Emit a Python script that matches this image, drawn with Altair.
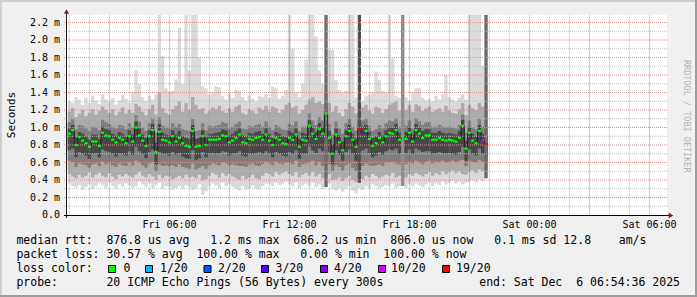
import altair as alt
import pandas as pd

MONO = "DejaVu Sans Mono"

# ---------------- time axis: hours since Fri 00:00 ----------------
START_H = 0.91          # Fri Dec 5 00:54:36
END_H = 30.91           # Sat Dec 6 06:54:36
STEP_H = 1.0 / 6.0      # one column = 10 minutes
Y_TOP = 200.0 / 87.5    # top of canvas in ms

# ---------------- values (hundredths of a millisecond) ----------------
med = [93, 97, 80, 89, 85, 82, 78, 84, 84, 79,
       94, 91, 90, 86, 83, 88, 86, 82, 90, 84,
       100, 91, 85, 79, 90, 97, 72, 95, 86, 85,
       83, 90, 84, 88, 82, 79, 78, 96, 78, 79,
       90, 80, 86, 86, 86, 87, 91, 90, 83, 85,
       88, 92, 83, 82, 87, 86, 88, 89, 86, 92,
       85, 80, 88, 86, 82, 81, 88, 86, 92, 78,
       86, 85, 102, 93, 87, 98, 93, 116, 88, 70,
       92, 83, 74, 90, 96, 86, 78, 98, 94, 96,
       87, 79, 82, 88, 83, 90, 94, 93, 97, 86,
       90, 87, 94, 84, 97, 93, 88, 91, 91, 86,
       86, 88, 86, 85, 86, 85, 84, 88, 102, 76,
       94, 85, 82, 96, 85, 81]

hi1 = [130, 128, 135, 132, 126, 134, 128, 136, 131, 127,
       138, 132, 129, 134, 126, 131, 137, 133, 128, 140,
       166, 150, 135, 130, 136, 132, 138, 230, 182, 145,
       140, 142, 155, 214, 150, 230, 165, 230, 230, 180,
       147, 145, 138, 140, 147, 146, 136, 132, 139, 134,
       143, 142, 135, 131, 137, 133, 130, 136, 135, 138,
       134, 147, 145, 133, 136, 143, 230, 190, 140, 135,
       150, 178, 230, 230, 204, 165, 150, 140, 189, 189,
       154, 143, 140, 142, 230, 230, 135, 132, 130, 136,
       138, 140, 164, 155, 142, 140, 230, 179, 136, 134,
       138, 135, 130, 140, 145, 145, 134, 131, 133, 130,
       136, 132, 138, 160, 135, 132, 130, 134, 138, 132,
       230, 230, 230, 230, 170, 150]

lo1 = [36, 33, 31, 34, 29, 32, 35, 30, 33, 36,
       34, 31, 37, 33, 30, 35, 32, 36, 34, 31,
       33, 38, 35, 32, 36, 31, 34, 37, 30, 33,
       32, 29, 31, 33, 30, 34, 32, 29, 31, 35,
       23, 27, 33, 36, 34, 31, 37, 33, 35, 32,
       30, 28, 33, 29, 31, 34, 30, 29, 33, 36,
       35, 33, 37, 34, 36, 38, 35, 33, 37, 31,
       34, 36, 33, 37, 32, 35, 30, 32, 36, 30,
       28, 31, 27, 30, 33, 28, 25, 31, 29, 33,
       31, 35, 33, 30, 32, 34, 33, 36, 31, 33,
       34, 31, 35, 33, 36, 34, 32, 35, 37, 33,
       36, 34, 38, 35, 37, 39, 36, 38, 35, 37,
       38, 40, 37, 41, 39, 42]

hi2 = [118, 122, 112, 116, 120, 113, 117, 121, 115, 119,
       124, 120, 117, 121, 114, 118, 123, 116, 120, 117,
       127, 124, 118, 114, 121, 126, 115, 140, 122, 117,
       115, 121, 125, 130, 118, 128, 120, 135, 126, 121,
       122, 116, 119, 123, 121, 125, 119, 117, 122, 118,
       124, 126, 117, 115, 121, 119, 116, 123, 120, 125,
       118, 124, 122, 117, 120, 126, 128, 123, 125, 116,
       120, 126, 132, 135, 128, 130, 127, 140, 128, 118,
       125, 117, 113, 121, 128, 124, 116, 125, 123, 126,
       119, 116, 124, 122, 117, 121, 126, 128, 130, 119,
       122, 120, 126, 118, 127, 125, 119, 122, 124, 118,
       120, 122, 118, 125, 119, 117, 116, 121, 128, 114,
       126, 122, 120, 128, 124, 119]

lo2 = [47, 44, 42, 46, 43, 45, 49, 43, 46, 48,
       45, 43, 48, 44, 41, 46, 44, 47, 45, 43,
       46, 49, 45, 43, 47, 44, 40, 46, 42, 45,
       44, 41, 43, 45, 42, 46, 43, 44, 42, 46,
       40, 41, 45, 48, 46, 43, 48, 45, 47, 44,
       42, 40, 45, 41, 43, 46, 42, 41, 45, 48,
       47, 44, 49, 46, 48, 50, 47, 45, 49, 43,
       46, 48, 45, 49, 44, 47, 42, 44, 47, 40,
       41, 43, 39, 42, 45, 40, 38, 43, 41, 45,
       43, 47, 45, 42, 44, 46, 45, 48, 43, 45,
       46, 43, 47, 45, 48, 46, 44, 47, 49, 45,
       48, 46, 50, 47, 49, 51, 48, 50, 47, 46,
       49, 51, 48, 52, 50, 52]

hi3 = [106, 110, 98, 103, 102, 99, 96, 101, 100, 97,
       109, 106, 104, 101, 99, 103, 102, 98, 105, 100,
       114, 107, 100, 96, 105, 111, 94, 112, 102, 100,
       99, 105, 101, 104, 98, 97, 96, 110, 96, 97,
       105, 97, 102, 101, 102, 103, 106, 105, 99, 101,
       104, 107, 99, 98, 102, 101, 103, 104, 101, 107,
       101, 97, 103, 101, 98, 97, 104, 102, 107, 96,
       101, 101, 116, 108, 103, 112, 108, 128, 104, 92,
       107, 99, 93, 105, 110, 101, 96, 112, 108, 110,
       102, 96, 98, 103, 99, 105, 108, 107, 111, 101,
       105, 102, 108, 99, 111, 107, 103, 106, 106, 101,
       101, 103, 101, 100, 101, 100, 99, 103, 115, 94,
       108, 100, 98, 110, 101, 98]

lo3 = [62, 60, 55, 59, 58, 57, 54, 58, 59, 56,
       61, 58, 60, 57, 55, 59, 57, 56, 60, 57,
       62, 60, 57, 54, 59, 60, 50, 58, 56, 57,
       56, 57, 55, 58, 55, 54, 53, 59, 52, 54,
       56, 53, 57, 59, 58, 57, 60, 59, 57, 58,
       57, 56, 56, 55, 58, 59, 57, 56, 58, 61,
       59, 57, 61, 59, 58, 60, 60, 58, 62, 55,
       58, 59, 60, 62, 57, 61, 56, 60, 58, 50,
       57, 55, 51, 57, 59, 54, 50, 58, 56, 59,
       57, 56, 57, 58, 56, 60, 60, 61, 59, 58,
       60, 58, 61, 59, 62, 60, 58, 61, 62, 59,
       61, 60, 62, 60, 61, 62, 60, 62, 63, 56,
       62, 61, 60, 63, 61, 62]

hi4 = [99, 103, 89, 95, 93, 90, 86, 92, 92, 87,
       101, 98, 97, 93, 91, 95, 93, 90, 97, 92,
       107, 99, 92, 88, 97, 104, 83, 104, 94, 92,
       91, 97, 92, 96, 90, 88, 87, 103, 87, 88,
       97, 89, 93, 93, 94, 95, 98, 97, 91, 93,
       96, 99, 91, 90, 94, 93, 95, 96, 93, 99,
       93, 88, 95, 93, 90, 89, 96, 94, 99, 87,
       94, 93, 109, 100, 95, 105, 100, 122, 96, 81,
       99, 91, 84, 97, 103, 93, 87, 105, 101, 103,
       95, 88, 90, 95, 91, 97, 101, 100, 104, 94,
       97, 95, 101, 92, 104, 100, 96, 98, 98, 94,
       94, 96, 94, 93, 94, 93, 92, 96, 109, 85,
       101, 93, 90, 103, 93, 90]

lo4 = [74, 76, 66, 72, 70, 68, 64, 70, 71, 66,
       75, 73, 72, 70, 67, 71, 70, 68, 73, 69,
       78, 73, 70, 65, 72, 75, 58, 72, 70, 70,
       68, 72, 69, 71, 67, 65, 64, 74, 63, 65,
       72, 66, 70, 71, 70, 71, 73, 72, 68, 70,
       71, 73, 68, 67, 70, 70, 71, 72, 70, 73,
       70, 66, 72, 70, 68, 67, 72, 70, 74, 64,
       70, 70, 78, 74, 71, 76, 73, 80, 72, 58,
       74, 69, 62, 72, 75, 70, 62, 76, 74, 76,
       71, 66, 68, 72, 69, 73, 75, 74, 76, 70,
       73, 71, 75, 70, 76, 74, 72, 73, 73, 70,
       71, 72, 71, 70, 71, 70, 69, 72, 78, 62,
       75, 70, 68, 76, 70, 68]

# columns whose median carries packet loss
loss_cols = [87, 88, 124, 125]
loss_vals = ["19/20", "3/20", "10/20", "19/20"]

# full-height loss bars
bar_cols = [77, 87, 100, 125]
bar_lo = [32, 37, 33, 42]
bar_hi = [230, 230, 230, 230]
bar_shade = ["#6b6b6b", "#4f4f4f", "#8c8c8c", "#696969"]

legend_loss = ["0", "1/20", "2/20", "3/20", "4/20", "10/20", "19/20"]
legend_colors = ["#00ff00", "#00b8ff", "#0059ff", "#5e00ff", "#7e00ff", "#dd00ff", "#ff0000"]

smoke_colors = ["#dadada", "#ababab", "#7e7e7e", "#484848"]

x_tick_hours = [6, 12, 18, 24, 30]
x_tick_labels = ["Fri 06:00", "Fri 12:00", "Fri 18:00", "Sat 00:00", "Sat 06:00"]
y_tick_values = [0.0, 0.2, 0.4, 0.6, 0.8, 1.0, 1.2, 1.4, 1.6, 1.8, 2.0, 2.2]
y_tick_labels = ["0.0  ", "0.2 m", "0.4 m", "0.6 m", "0.8 m", "1.0 m",
                 "1.2 m", "1.4 m", "1.6 m", "1.8 m", "2.0 m", "2.2 m"]
y_title = "Seconds"

rtt_line = "median rtt:  876.8 us avg   1.2 ms max  686.2 us min  806.0 us now   0.1 ms sd 12.8    am/s"
loss_line = "packet loss: 30.57 % avg  100.00 % max   0.00 % min  100.00 % now"
probe_line = "probe:       20 ICMP Echo Pings (56 Bytes) every 300s"
end_text = "end: Sat Dec  6 06:54:36 2025"
watermark = "RRDTOOL / TOBI OETIKER"

arrays = [med, hi1, lo1, hi2, lo2, hi3, lo3, hi4, lo4]
n = len(med)
assert all(len(a) == n for a in arrays), [len(a) for a in arrays]

NB = "\u00a0"


def nbsp(s):
    return s.replace(" ", NB)


# ---------------- tables ----------------
loss_map = dict(zip(legend_loss, legend_colors))
loss_label = ["0"] * n
for c, v in zip(loss_cols, loss_vals):
    loss_label[c] = v

cols = pd.DataFrame({
    "t0": [START_H + i * STEP_H for i in range(n)],
    "t1": [START_H + (i + 1) * STEP_H for i in range(n)],
    "med": [v / 100 for v in med],
    "col": [loss_map[l] for l in loss_label],
})


def stepped(a):
    # step areas need one closing point at the end of the last column
    return [v / 100 for v in a] + [a[-1] / 100]


area = pd.DataFrame({
    "t": [START_H + i * STEP_H for i in range(n + 1)],
    "hi1": stepped(hi1), "lo1": stepped(lo1),
    "hi2": stepped(hi2), "lo2": stepped(lo2),
    "hi3": stepped(hi3), "lo3": stepped(lo3),
    "hi4": stepped(hi4), "lo4": stepped(lo4),
    "med": stepped(med),
})

bars = pd.DataFrame({
    "t0": [START_H + c * STEP_H for c in bar_cols],
    "t1": [START_H + (c + 1) * STEP_H for c in bar_cols],
    "lo": [v / 100 for v in bar_lo],
    "hi": [v / 100 for v in bar_hi],
    "shade": bar_shade,
})

GRID_GRAY = "#bdbdbd"
GRID_RED = "#d99090"
VGRID_GRAY = "#8c8c8c"
VGRID_RED = "#b03030"
hours = [float(h) for h in range(1, 31)]
vgrid = pd.DataFrame({
    "hr": hours,
    "gc": [VGRID_RED if int(h) % 3 == 0 else VGRID_GRAY for h in hours],
})
yvals = [k / 10 for k in range(1, 23)]
hgrid = pd.DataFrame({"v": yvals, "c": [GRID_RED if k % 2 == 0 else GRID_GRAY for k in range(1, 23)]})

ylab = pd.DataFrame({"v": y_tick_values, "s": [nbsp(s) for s in y_tick_labels]})
xlab = pd.DataFrame({"h": x_tick_hours, "s": [nbsp(s) for s in x_tick_labels]})

# ---------------- scales ----------------
# range nudged by 0.7 px so that whole hours fall on pixel centres (crisp grid)
xs = alt.Scale(domain=[START_H, END_H], range=[0.7, 600.7], nice=False, zero=False)
ys = alt.Scale(domain=[0, Y_TOP], nice=False, zero=True, clamp=True)


def X(f):
    return alt.X(f, scale=xs, axis=None)


def Y(f):
    return alt.Y(f, scale=ys, axis=None)


layers = []

# smoke bands
for k, c in enumerate(smoke_colors, start=1):
    layers.append(
        alt.Chart(area).mark_area(interpolate="step-after", color=c, opacity=1).encode(
            x=X("t:Q"), y=Y(f"hi{k}:Q"), y2=f"lo{k}:Q",
        )
    )

# loss bars
layers.append(
    alt.Chart(bars).mark_rect(strokeWidth=0).encode(
        x=X("t0:Q"), x2="t1:Q", y=Y("hi:Q"), y2="lo:Q",
        color=alt.Color("shade:N", scale=None),
    )
)

# vertical grid: full-height translucent rules
layers.append(
    alt.Chart(vgrid).mark_rule(strokeWidth=1, strokeOpacity=0.3).encode(
        x=X("hr:Q"),
        color=alt.Color("gc:N", scale=None),
    )
)
layers.append(
    alt.Chart(hgrid).mark_rule(strokeDash=[1, 1], strokeWidth=1).encode(
        y=Y("v:Q"), x=alt.value(-3), x2=alt.value(601),
        color=alt.Color("c:N", scale=None),
    )
)

# median: dark connecting line + coloured loss segments
layers.append(
    alt.Chart(area).mark_line(interpolate="step-after", color="#202020", strokeWidth=1).encode(
        x=X("t:Q"), y=Y("med:Q"),
    )
)
layers.append(
    alt.Chart(cols).mark_rule(strokeWidth=2.2, strokeCap="butt").encode(
        x=X("t0:Q"), x2="t1:Q", y=Y("med:Q"),
        color=alt.Color("col:N", scale=None),
    )
)

# axis labels placed through the scales
layers.append(
    alt.Chart(ylab).mark_text(align="right", baseline="middle", font=MONO, fontSize=10, color="black")
    .encode(y=Y("v:Q"), x=alt.value(-7), text="s:N")
)
layers.append(
    alt.Chart(xlab).mark_text(align="center", baseline="middle", font=MONO, fontSize=10, color="black")
    .encode(x=X("h:Q"), y=alt.value(209.5), text="s:N")
)

one = pd.DataFrame({"a": [0]})


def prule(color, width, **enc):
    return alt.Chart(one).mark_rule(color=color, strokeWidth=width).encode(
        **{k: alt.value(v) for k, v in enc.items()})


# axis lines and arrows
layers.append(prule("#1f1f1f", 1, x=-0.5, y=-4, y2=203))
layers.append(prule("#000000", 1, y=200.5, x=-3, x2=603))
layers.append(
    alt.Chart(one).mark_point(shape="triangle-up", filled=True, color="#7f1f1f", size=28, opacity=1)
    .encode(x=alt.value(-0.5), y=alt.value(-3.5))
)
layers.append(
    alt.Chart(one).mark_point(shape="triangle-right", filled=True, color="#7f1f1f", size=28, opacity=1)
    .encode(x=alt.value(604), y=alt.value(200.5))
)

# image border (3D shade)
layers.append(prule("#cfcfcf", 2, x=-67, x2=630, y=-14))
layers.append(prule("#cfcfcf", 2, x=-66, y=-15, y2=282))
layers.append(prule("#9e9e9e", 2, x=-67, x2=630, y=281))
layers.append(prule("#9e9e9e", 2, x=629, y=-15, y2=282))


def text_at(s, x, y, align="left", size=11.5, color="black", angle=0, baseline="middle"):
    return alt.Chart(pd.DataFrame({"s": [nbsp(s)]})).mark_text(
        align=align, baseline=baseline, font=MONO, fontSize=size, color=color, angle=angle
    ).encode(text="s:N", x=alt.value(x), y=alt.value(y))


PX0, PY0 = 67, 15
LX = 16.4 - PX0
layers.append(text_at(y_title, -52, 100, align="center", size=11, angle=270, baseline="alphabetic"))
layers.append(text_at(rtt_line, LX, 241 - PY0))
layers.append(text_at(loss_line, LX, 255 - PY0))
layers.append(text_at("loss color:", LX, 269 - PY0))
layers.append(text_at(probe_line, LX, 283 - PY0))
layers.append(text_at(end_text, 680 - PX0, 283 - PY0, align="right"))
layers.append(text_at(watermark, 687 - PX0, 60 - PY0, size=8.5, color="#b4b4b4", angle=90))

box_left = [108, 145, 203.5, 261, 320, 378, 442]
box_text = [123.5, 160, 218, 275.5, 334, 391, 456]
for bl, bt, lab, col in zip(box_left, box_text, legend_loss, legend_colors):
    layers.append(
        alt.Chart(one).mark_rect(fill=col, stroke="black", strokeWidth=1).encode(
            x=alt.value(bl - PX0 + 0.5), x2=alt.value(bl - PX0 + 7.5),
            y=alt.value(265 - PY0 + 0.5), y2=alt.value(273 - PY0 - 0.5),
        )
    )
    layers.append(text_at(lab, bt - PX0, 269 - PY0))

chart = alt.layer(*layers).properties(
    width=600, height=200,
    padding={"left": PX0, "top": PY0, "right": 30, "bottom": 82},
    autosize="none",
    background="#f0f0f0",
).configure_view(fill="white", stroke=None)

chart.save("out.html", embed_options={"renderer": "svg", "actions": False})
